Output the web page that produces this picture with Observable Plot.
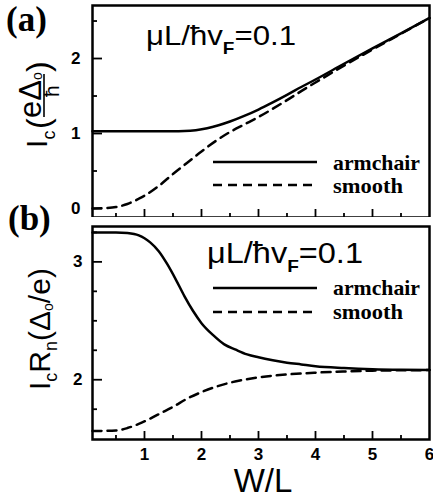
<!DOCTYPE html>
<html><head><meta charset="utf-8">
<script src="https://cdn.jsdelivr.net/npm/d3@7"></script>
<script src="https://cdn.jsdelivr.net/npm/@observablehq/plot@0.6"></script>
<style>
body{margin:0;background:#fff;}
#fig{position:relative;width:433px;height:499px;overflow:hidden;background:#fff;}
#fig svg{position:absolute;left:0;overflow:visible;}
</style></head><body><div id="fig"></div>
<script>
// ---- data ----
const xDomain = [0.088, 6];
const xMajor = [1, 2, 3, 4, 5];
const xMinor = [0.5, 1.5, 2.5, 3.5, 4.5, 5.5];
const xTickLabels = [1, 2, 3, 4, 5, 6];

// panel (a): Ic (e Δ0 / ħ)
const aYDomain = [-0.12, 2.707];
const aYMajor = [0, 1, 2];
const aYMinor = [0.5, 1.5, 2.5];
const aArmX = [0.088, 0.5, 1.0, 1.5, 1.7, 1.9, 2.1, 2.3, 2.5, 2.75, 3.0, 3.25, 3.5, 3.75, 4.0, 4.5, 5.0, 5.5, 6.0];
const aArmY = [1.03, 1.03, 1.03, 1.03, 1.033, 1.045, 1.07, 1.11, 1.16, 1.235, 1.32, 1.415, 1.515, 1.62, 1.72, 1.93, 2.135, 2.335, 2.54];
const aSmX = [0.088, 0.3, 0.5, 0.7, 0.9, 1.0, 1.25, 1.5, 1.75, 2.0, 2.25, 2.5, 2.75, 3.0, 3.25, 3.5, 3.75, 4.0, 4.5, 5.0, 5.5, 6.0];
const aSmY = [0.0, 0.005, 0.02, 0.06, 0.13, 0.17, 0.30, 0.46, 0.61, 0.76, 0.90, 1.02, 1.12, 1.22, 1.33, 1.445, 1.565, 1.68, 1.905, 2.12, 2.33, 2.54];

// panel (b): Ic Rn (Δ0 / e)
const bYDomain = [1.493, 3.30];
const bYMajor = [2, 3];
const bYMinor = [1.75, 2.25, 2.5, 2.75, 3.25];
const bArmX = [0.088, 0.5, 0.7, 0.9, 1.0, 1.1, 1.25, 1.4, 1.55, 1.7, 1.85, 2.0, 2.2, 2.4, 2.6, 2.8, 3.0, 3.25, 3.5, 3.75, 4.0, 4.5, 5.0, 5.5, 6.0];
const bArmY = [3.25, 3.25, 3.245, 3.225, 3.20, 3.165, 3.09, 2.98, 2.85, 2.71, 2.585, 2.48, 2.38, 2.30, 2.255, 2.215, 2.19, 2.165, 2.145, 2.13, 2.115, 2.10, 2.09, 2.085, 2.083];
const bSmX = [0.088, 0.5, 0.7, 0.9, 1.1, 1.3, 1.5, 1.75, 2.0, 2.25, 2.5, 2.75, 3.0, 3.5, 4.0, 4.5, 5.0, 5.5, 6.0];
const bSmY = [1.565, 1.57, 1.59, 1.625, 1.67, 1.72, 1.77, 1.84, 1.895, 1.94, 1.975, 2.00, 2.02, 2.045, 2.06, 2.07, 2.077, 2.08, 2.082];

const seriesNames = ["armchair", "smooth"];
const annotation = {pre: "\u03BCL/\u0127v", sub: "F", post: "=0.1"};

// ---- helpers ----
const zip = (xs, ys) => xs.map((x, i) => ({x, y: ys[i]}));
const W = 433, ML = 92, MR = 4;
const frameW = W - ML - MR;
const LW = 2.5, DASH = "9,6";
const sans = "'Liberation Sans', Arial, Helvetica, sans-serif";
const serif = "'Liberation Serif', 'Times New Roman', serif";
const fmt = d3.format("d");

function panel({height, mt, mb, yDomain, yMajor, yMinor, arm, sm, xLabels, yPad}) {
  const frameH = height - mt - mb;
  return Plot.plot({
    width: W, height, marginLeft: ML, marginRight: MR, marginTop: mt, marginBottom: mb,
    x: {domain: xDomain, axis: null},
    y: {domain: yDomain, axis: null},
    style: {fontFamily: sans, fontSize: "16px", color: "black", background: "white"},
    marks: [
      Plot.ruleY(yMajor, {y: d => d, insetRight: frameW - 10, strokeWidth: 1.8}),
      Plot.ruleY(yMinor, {y: d => d, insetRight: frameW - 5, strokeWidth: 1.8}),
      Plot.ruleX(xMajor, {x: d => d, insetTop: frameH - 8, strokeWidth: 1.8}),
      Plot.ruleX(xMinor, {x: d => d, insetTop: frameH - 4, strokeWidth: 1.8}),
      Plot.text(yMajor, {y: d => d, text: d => fmt(d), frameAnchor: "left", dx: -yPad, textAnchor: "end",
        fontSize: 17, fontWeight: 700, fontFamily: sans, fill: "black"}),
      xLabels ? Plot.text(xTickLabels, {x: d => d, text: d => fmt(d), frameAnchor: "bottom", dy: 8, lineAnchor: "top",
        fontSize: 17, fontWeight: 700, fontFamily: sans, fill: "black"}) : null,
      Plot.line(arm, {x: "x", y: "y", curve: "monotone-x", strokeWidth: LW, stroke: "black"}),
      Plot.line(sm, {x: "x", y: "y", curve: "monotone-x", strokeWidth: LW, stroke: "black", strokeDasharray: DASH}),
      Plot.frame({strokeWidth: 2.5, stroke: "black"})
    ]
  });
}

const fig = d3.select("#fig");

const pa = panel({height: 222, mt: 5, mb: 5, yDomain: aYDomain, yMajor: aYMajor, yMinor: aYMinor,
  arm: zip(aArmX, aArmY), sm: zip(aSmX, aSmY), xLabels: false, yPad: 12});
const pb = panel({height: 282, mt: 9, mb: 60, yDomain: bYDomain, yMajor: bYMajor, yMinor: bYMinor,
  arm: zip(bArmX, bArmY), sm: zip(bSmX, bSmY), xLabels: true, yPad: 10});
fig.node().appendChild(pa);
fig.node().appendChild(pb);
d3.select(pa).style("top", "0px");
d3.select(pb).style("top", "217px");

function txt(sel) { return sel.append("text").attr("text-anchor", "start").attr("fill", "black"); }

function addAnnot(svg, x, y, size, subSize, subDy, len) {
  const t = txt(d3.select(svg)).attr("x", x).attr("y", y)
    .attr("font-family", sans).attr("font-weight", "normal").attr("font-size", size)
    .attr("textLength", len).attr("lengthAdjust", "spacingAndGlyphs");
  t.append("tspan").text(annotation.pre);
  t.append("tspan").attr("dy", subDy).attr("font-size", subSize).attr("font-weight", "bold").text(annotation.sub);
  t.append("tspan").attr("dy", -subDy).text(annotation.post);
}
function addLegend(svg, x0, x1, tx, y1, y2, t1, t2) {
  const g = d3.select(svg).append("g");
  g.append("line").attr("x1", x0).attr("x2", x1).attr("y1", y1).attr("y2", y1).attr("stroke", "black").attr("stroke-width", LW);
  g.append("line").attr("x1", x0).attr("x2", x1).attr("y1", y2).attr("y2", y2).attr("stroke", "black").attr("stroke-width", LW).attr("stroke-dasharray", DASH);
  txt(g).attr("x", tx).attr("y", t1).attr("font-family", serif).attr("font-weight", "bold").attr("font-size", 22)
    .attr("textLength", 87).attr("lengthAdjust", "spacingAndGlyphs").text(seriesNames[0]);
  txt(g).attr("x", tx).attr("y", t2).attr("font-family", serif).attr("font-weight", "bold").attr("font-size", 22)
    .attr("textLength", 70).attr("lengthAdjust", "spacingAndGlyphs").text(seriesNames[1]);
}
function addPanelTag(svg, x, y, s) {
  txt(d3.select(svg)).attr("x", x).attr("y", y).attr("font-family", serif)
    .attr("font-weight", "bold").attr("font-size", 35).text(s);
}

// panel (a) decorations (svg coords == page coords)
addAnnot(pa, 146, 45, 28, 17, 9, 150);
addLegend(pa, 213, 317, 333, 162, 185, 170, 193);
addPanelTag(pa, 6, 31, "(a)");

// y label (a): I_c ( eΔo / ħ )
{
  const g = d3.select(pa).append("g").attr("transform", "translate(47,148) rotate(-90)")
    .attr("font-family", sans).attr("font-weight", "normal");
  txt(g).attr("x", 0).attr("y", 0).attr("font-size", 30).text("I");
  txt(g).attr("x", 8.5).attr("y", 8).attr("font-size", 18).text("c");
  txt(g).attr("x", 19).attr("y", 2).attr("font-size", 32).text("(");
  const num = txt(g).attr("x", 30).attr("y", -6).attr("font-size", 31);
  num.append("tspan").text("e\u0394");
  num.append("tspan").attr("font-size", 14).attr("dy", 1).text("o");
  g.append("line").attr("x1", 31).attr("x2", 74).attr("y1", -3).attr("y2", -3).attr("stroke", "black").attr("stroke-width", 1.6);
  txt(g).attr("x", 51).attr("y", 12).attr("font-size", 21).text("\u0127");
  txt(g).attr("x", 76).attr("y", 2).attr("font-size", 32).text(")");
}

// panel (b) decorations (page y = svg y + 217)
const oy = 217;
addAnnot(pb, 207, 263 - oy, 29, 17, 9, 156);
addLegend(pb, 213, 317, 333, 288 - oy, 312 - oy, 295 - oy, 319 - oy);
addPanelTag(pb, 8, 230 - oy, "(b)");
{
  const g = d3.select(pb).append("g").attr("transform", `translate(50,${390 - oy}) rotate(-90)`)
    .attr("font-family", sans).attr("font-weight", "normal");
  const t = txt(g).attr("x", 0).attr("y", 0).attr("font-size", 30);
  t.append("tspan").text("I");
  t.append("tspan").attr("font-size", 18).attr("dy", 7).text("c");
  t.append("tspan").attr("dy", -7).text("R");
  t.append("tspan").attr("font-size", 18).attr("dy", 7).text("n");
  t.append("tspan").attr("dy", -7).text("(\u0394");
  t.append("tspan").attr("font-size", 14).attr("dy", 3).text("o");
  t.append("tspan").attr("dy", -3).text("/e)");
}
// x label
d3.select(pb).append("text").attr("x", 263).attr("y", 492 - oy).attr("text-anchor", "middle")
  .attr("font-family", sans).attr("font-weight", "normal").attr("font-size", 33).text("W/L");
</script>
</body></html>
